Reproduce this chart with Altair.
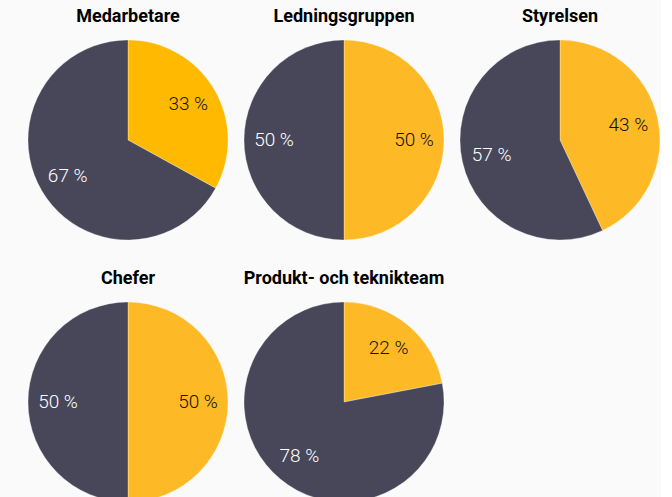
import altair as alt
import pandas as pd

groups = ["Medarbetare", "Ledningsgruppen", "Styrelsen", "Chefer", "Produkt- och teknikteam"]
yellow_share = [33, 50, 43, 50, 22]
dark_share = [67, 50, 57, 50, 78]
yellow_colors = ["#FFBA00", "#FDBA26", "#FDBA26", "#FDBA26", "#FDBA26"]
dark_color = "#474759"

rows = []
for g, y, d, yc in zip(groups, yellow_share, dark_share, yellow_colors):
    rows.append({"group": g, "part": "a", "ord": 0, "value": y, "color": yc,
                 "label": f"{y} %", "tcolor": "#111111"})
    rows.append({"group": g, "part": "b", "ord": 1, "value": d, "color": dark_color,
                 "label": f"{d} %", "tcolor": "#FFFFFF"})
df = pd.DataFrame(rows)

base = alt.Chart().encode(
    theta=alt.Theta("value:Q", stack=True),
    order=alt.Order("ord:Q", sort="ascending"),
)
arcs = base.mark_arc(stroke="#ffffff", strokeWidth=0.3).encode(
    color=alt.Color("color:N", scale=None)
)
labels = base.mark_text(radius=70, font="Roboto", fontSize=19, fontWeight=300).encode(
    text="label:N",
    color=alt.Color("tcolor:N", scale=None),
)

chart = alt.layer(arcs, labels, data=df).properties(width=200, height=200).facet(
    facet=alt.Facet("group:N", sort=groups, header=alt.Header(
        title=None, labelFont="Roboto", labelFontSize=18, labelFontWeight="bold",
        labelColor="#000000", labelPadding=13)),
    columns=3,
    spacing={"row": 29, "column": 14},
).properties(
    background="#FAFAFA",
    padding={"left": 27, "top": 8, "right": 0, "bottom": 0},
).configure_view(stroke=None)

chart.save("out.html", embed_options={"renderer": "svg", "actions": False})
